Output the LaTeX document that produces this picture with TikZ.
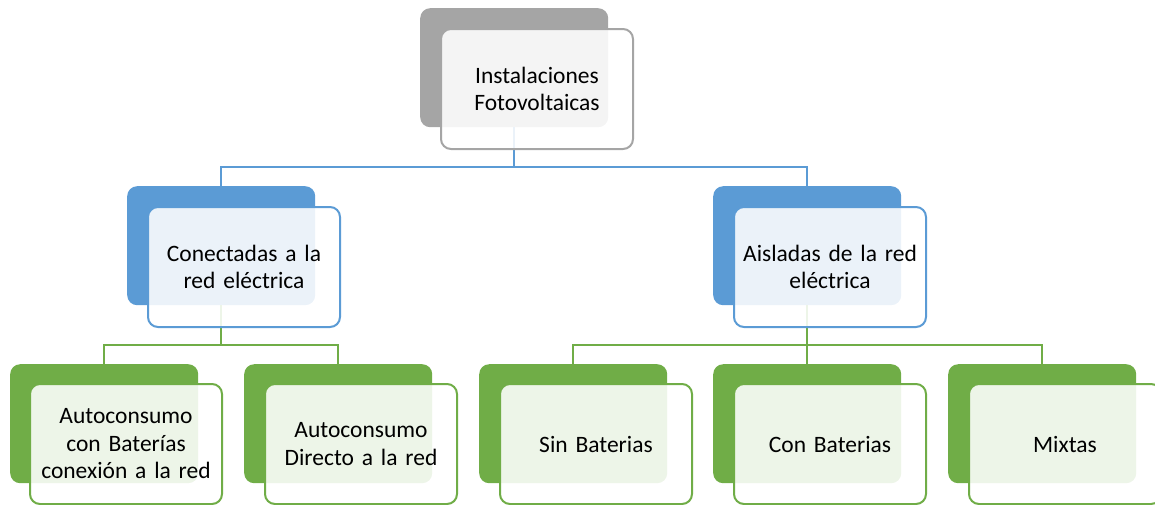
\documentclass[tikz,border=0pt]{standalone}
\usepackage{fontspec}
\setmainfont{Carlito}
\definecolor{cgray}{HTML}{A5A5A5}
\definecolor{cblue}{HTML}{5B9BD5}
\definecolor{cgreen}{HTML}{70AD47}
\tikzset{
  backbox/.style={rectangle, rounded corners=10pt, anchor=north west, minimum width=188pt, minimum height=119pt, inner sep=0pt, draw=none},
  frontbox/.style={rectangle, rounded corners=10pt, anchor=north west, minimum width=192pt, minimum height=120pt, inner sep=0pt, line width=2pt, fill=white, fill opacity=0.88, text opacity=1, draw opacity=1, align=center, text width=188pt, font=\fontsize{23.5pt}{27.5pt}\selectfont},
  conn/.style={line width=2pt},
}
\begin{document}
\begin{tikzpicture}[x=1pt,y=-1pt]
\useasboundingbox (0,0) rectangle (1155,504);
% back boxes
\node[backbox, fill=cgray] (b0) at (420,8) {};
\node[backbox, fill=cblue] (b1) at (127,186) {};
\node[backbox, fill=cblue] (b2) at (713,186) {};
\node[backbox, fill=cgreen] (c1) at (10,364) {};
\node[backbox, fill=cgreen] (c2) at (244,364) {};
\node[backbox, fill=cgreen] (c3) at (479,364) {};
\node[backbox, fill=cgreen] (c4) at (713,364) {};
\node[backbox, fill=cgreen] (c5) at (948,364) {};
% connectors
\draw[conn, cblue] (b0.south) -- (b0.south |- 0,167) -| (b1.north);
\draw[conn, cblue] (b0.south |- 0,167) -| (b2.north);
\draw[conn, cgreen] (b1.south) -- (b1.south |- 0,345) -| (c1.north);
\draw[conn, cgreen] (b1.south |- 0,345) -| (c2.north);
\draw[conn, cgreen] (b2.south) -- (b2.south |- 0,345) -| (c3.north);
\draw[conn, cgreen] (b2.south |- 0,345) -| (c5.north);
\draw[conn, cgreen] (b2.south |- 0,345) -- (c4.north);
% front boxes
\node[frontbox, draw=cgray] (f0) at (440,28) {Instalaciones\\Fotovoltaicas};
\node[frontbox, draw=cblue] (f1) at (147,206) {Conectadas a la\\red eléctrica};
\node[frontbox, draw=cblue] (f2) at (733,206) {Aisladas de la red\\eléctrica};
\node[frontbox, draw=cgreen] (g1) at (29,383) {Autoconsumo\\con Baterías\\conexión a la red};
\node[frontbox, draw=cgreen] (g2) at (264,383) {Autoconsumo\\Directo a la red};
\node[frontbox, draw=cgreen] (g3) at (499,383) {Sin Baterias};
\node[frontbox, draw=cgreen] (g4) at (733,383) {Con Baterias};
\node[frontbox, draw=cgreen] (g5) at (968,383) {Mixtas};
\end{tikzpicture}
\end{document}
